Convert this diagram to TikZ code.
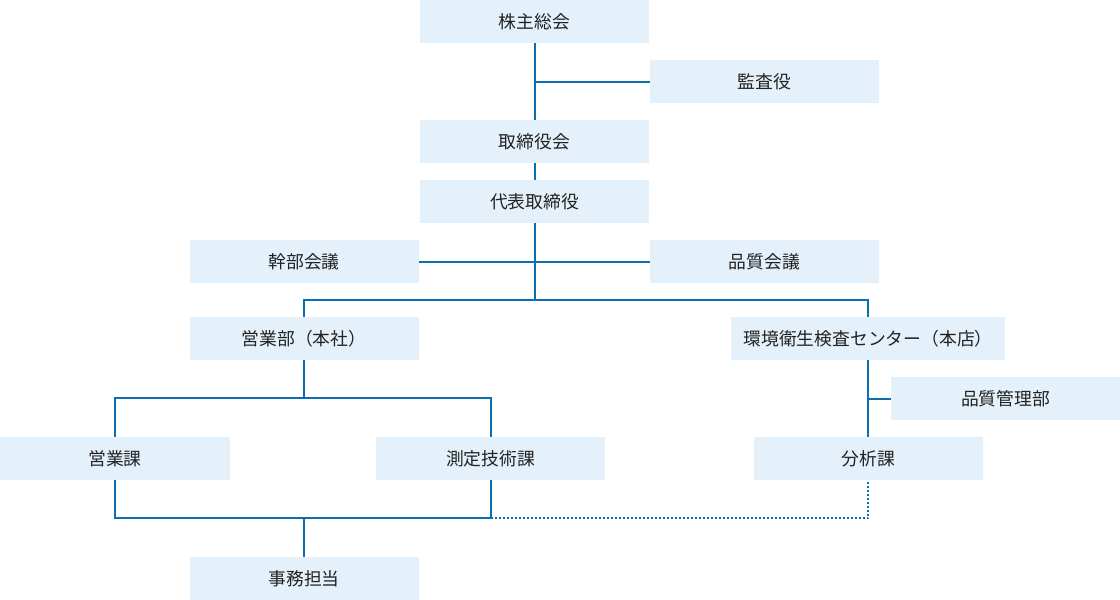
\documentclass[tikz,border=0pt]{standalone}
\usepackage{fontspec}
\newfontfamily\jpfont{Noto Sans CJK JP}
\definecolor{boxc}{HTML}{E5F1FA}
\definecolor{linec}{HTML}{0A6FAE}
\definecolor{txtc}{HTML}{222222}
\begin{document}
\begin{tikzpicture}[x=1pt,y=-1pt,
  orgbox/.style={fill=boxc,draw=none,minimum width=229pt,minimum height=43pt,inner sep=0pt,
    font=\jpfont\fontsize{17.8}{20}\selectfont,text=txtc},
  conn/.style={draw=linec,line width=2pt},
  dotconn/.style={draw=linec,line width=2pt,dash pattern=on 2pt off 2pt}]
\useasboundingbox (0,0) rectangle (1120,600);
\node[orgbox] (A) at (534.5,21.5) {株主総会};
\node[orgbox] (B) at (764.5,81.5) {監査役};
\node[orgbox] (C) at (534.5,141.5) {取締役会};
\node[orgbox] (D) at (534.5,201.5) {代表取締役};
\node[orgbox] (E) at (304,261.5) {幹部会議};
\node[orgbox] (F) at (764.5,261.5) {品質会議};
\node[orgbox] (G) at (304,338.5) {営業部（本社）};
\node[orgbox,minimum width=274pt] (H) at (868,338.5) {環境衛生検査センター（本店）};
\node[orgbox] (I) at (1005.5,398.5) {品質管理部};
\node[orgbox,minimum width=230pt] (J) at (115,458.5) {営業課};
\node[orgbox] (K) at (490.5,458.5) {測定技術課};
\node[orgbox] (L) at (868.5,458.5) {分析課};
\node[orgbox] (M) at (304,578.5) {事務担当};
\coordinate (j1) at (534.5,300);
\coordinate (j2) at (304,398);
\coordinate (j3) at (304,518);
\draw[conn] (A.south) -- (C.north);
\draw[conn] (B.west) -- (A.south |- B.west);
\draw[conn] (C.south) -- (D.north);
\draw[conn] (D.south) -- (j1);
\draw[conn] (E.east) -- (F.west);
\draw[conn] (G.north) |- (j1) -| (H.north);
\draw[conn] (G.south) -- (j2);
\draw[conn] (J.north) |- (j2) -| (K.north);
\draw[conn] (H.south) -- (H.south |- L.north);
\draw[conn] (I.west) -- (H.south |- I.west);
\draw[conn] (J.south) |- (j3) -| (K.south);
\draw[conn] (j3) -- (M.north);
\draw[dotconn] (K.south |- j3) -| (H.south |- L.south);
\end{tikzpicture}
\end{document}
